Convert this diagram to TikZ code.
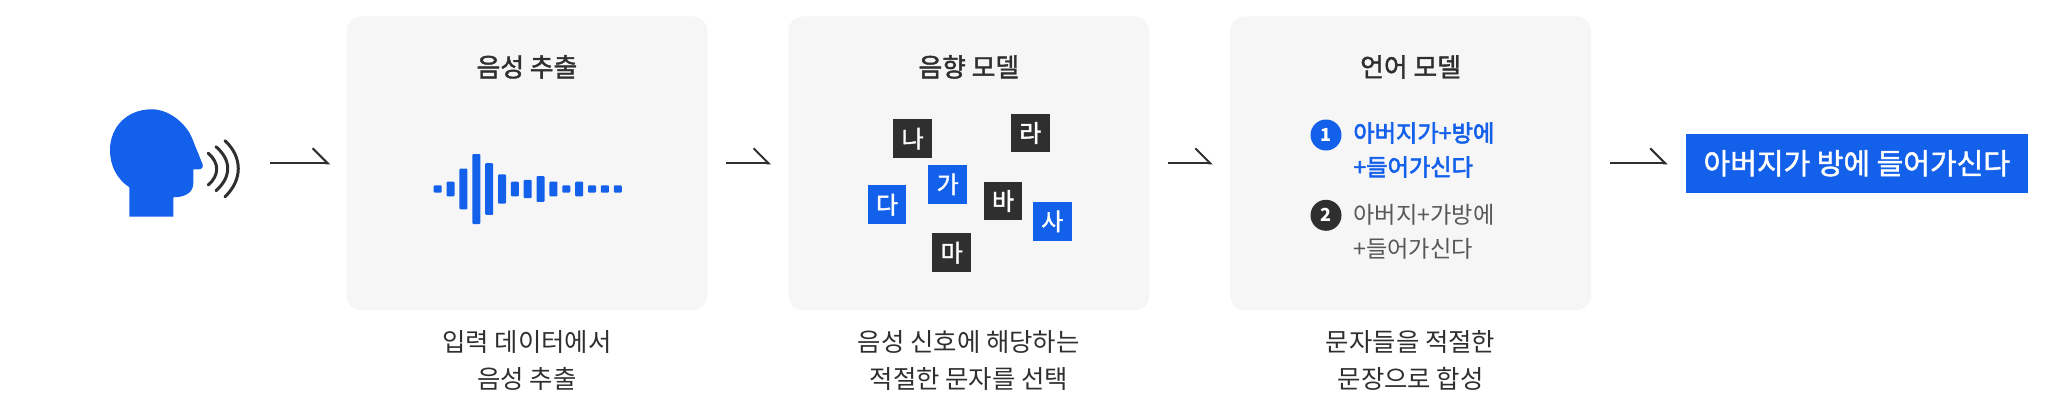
\documentclass[tikz,border=0pt]{standalone}
\usepackage{fontspec}
\setmainfont{Noto Sans CJK KR}
\newfontfamily\mediumfont[FakeBold=1.6]{Noto Sans CJK KR}
\newfontfamily\strongfont[FakeBold=2.6]{Noto Sans CJK KR}
\usetikzlibrary{arrows.meta}
\usetikzlibrary{positioning}
\definecolor{markblue}{HTML}{1360EB}
\definecolor{panelgray}{HTML}{F6F6F7}
\definecolor{inkdark}{HTML}{2F2F2F}
\tikzstyle{panel} = [rectangle, rounded corners=7.5pt, minimum width=180.5pt, minimum height=147pt, fill=panelgray, inner sep=0pt]
\tikzstyle{paneltitle} = [inner sep=0pt, text=inkdark, font=\fontsize{12.9pt}{15pt}\selectfont\mediumfont]
\tikzstyle{caption} = [inner sep=0pt, align=center, text=inkdark, font=\fontsize{12.7pt}{18.3pt}\selectfont]
\tikzstyle{tile} = [rectangle, minimum size=19.4pt, inner sep=0pt, text=white, font=\fontsize{12pt}{14pt}\selectfont\mediumfont]
\tikzstyle{badge} = [circle, minimum size=15.5pt, inner sep=0pt, text=white, font=\fontsize{9pt}{10pt}\selectfont\bfseries]
\tikzstyle{choice} = [inner sep=0pt, align=left, font=\fontsize{11.6pt}{17pt}\selectfont]
\tikzstyle{flow} = [draw=inkdark, line width=1pt, -{Straight Barb[left,length=7.5pt,width=15pt]}]

\begin{document}
\begin{tikzpicture}[x=0.5pt, y=-0.5pt]
 \useasboundingbox (0,0) rectangle (2048,417);

 % speaker
 \node (speaker) [minimum width=66.5pt, minimum height=54pt, inner sep=0pt] at (176.5,163.3) {};
 \fill [markblue] (129.3,216.7) -- (173.3,216.7) -- (173.3,197.3)
   .. controls (186,197.3) and (193.3,192) .. (193.3,183.3) -- (193.3,169.3) -- (199,169.3)
   .. controls (202,169.3) and (203.5,167) .. (202.5,164)
   -- (192,138) .. controls (186.5,124.5) and (170,109.3) .. (151.7,109.3)
   .. controls (127,109.3) and (110,127) .. (110,150)
   .. controls (110,166) and (117,179) .. (129.3,187.3) -- cycle;
 \draw [inkdark, line width=1.5pt, line cap=round] (208.3,153.3) .. controls (219.5,163) and (219.5,175) .. (208.3,185);
 \draw [inkdark, line width=1.5pt, line cap=round] (216,146.7) .. controls (231.6,160) and (231.6,177) .. (216,190.7);
 \draw [inkdark, line width=1.5pt, line cap=round] (225,140.7) .. controls (242.7,157) and (242.7,180) .. (225,196.7);

 % panels
 \node (box1) [panel] at (527,163.3) {};
 \node (box2) [panel, right=40pt of box1] {};
 \node (box3) [panel, right=40pt of box2] {};
 \node (result) [rectangle, fill=markblue, minimum width=171.2pt, minimum height=29.7pt, inner sep=0pt, text=white, font=\fontsize{14.5pt}{16pt}\selectfont\mediumfont] at (1856.8,163.3) {아버지가 방에 들어가신다};

 \node (title1) [paneltitle, below=25.5pt of box1.north, anchor=center] {음성 추출};
 \node (title2) [paneltitle, below=25.5pt of box2.north, anchor=center] {음향 모델};
 \node (title3) [paneltitle, below=25.5pt of box3.north, anchor=center] {언어 모델};

 \node (note1) [caption, below=25pt of box1.south, anchor=center] {입력 데이터에서\\음성 추출};
 \node (note2) [caption, below=25pt of box2.south, anchor=center] {음성 신호에 해당하는\\적절한 문자를 선택};
 \node (note3) [caption, below=25pt of box3.south, anchor=center] {문자들을 적절한\\문장으로 합성};

 % waveform
 \foreach \h [count=\i from 0] in {7.3,14.7,40.7,70,51.7,29.3,14.7,18.3,25.7,14.7,7.3,14.7,7.3,7.3,7.3}
   \fill [markblue, rounded corners=0.5pt] (433.7+12.86*\i,189-\h/2) rectangle (441.7+12.86*\i,189+\h/2);

 % tiles
 \node (tileNa) [tile, fill=inkdark] at (912.7,138.7) {나};
 \node (tileRa) [tile, fill=inkdark] at (1030.3,133) {라};
 \node (tileGa) [tile, fill=markblue] at (947.7,184.3) {가};
 \node (tileDa) [tile, fill=markblue] at (887,204.7) {다};
 \node (tileBa) [tile, fill=inkdark] at (1003,201) {바};
 \node (tileSa) [tile, fill=markblue] at (1052.3,221.3) {사};
 \node (tileMa) [tile, fill=inkdark] at (951.7,252.7) {마};

 % choices
 \node (badge1) [badge, fill=markblue] at (1326,135) {1};
 \node (badge2) [badge, fill=inkdark] at (1326,215.3) {2};
 \node (choice1) [choice, text=markblue, font=\fontsize{11.6pt}{17pt}\selectfont\strongfont, anchor=west] at (1353,150) {아버지가+방에\\+들어가신다};
 \node (choice2) [choice, text=inkdark!80, anchor=west] at (1353,232) {아버지+가방에\\+들어가신다};

 % arrows
 \draw [flow, shorten <=13.5pt, shorten >=8pt] (speaker) -- (box1);
 \draw [flow, shorten <=9pt, shorten >=8.5pt] (box1) -- (box2);
 \draw [flow, shorten <=9pt, shorten >=8.5pt] (box2) -- (box3);
 \draw [flow, shorten <=9pt, shorten >=8.8pt] (box3) -- (result);
\end{tikzpicture}
\end{document}
